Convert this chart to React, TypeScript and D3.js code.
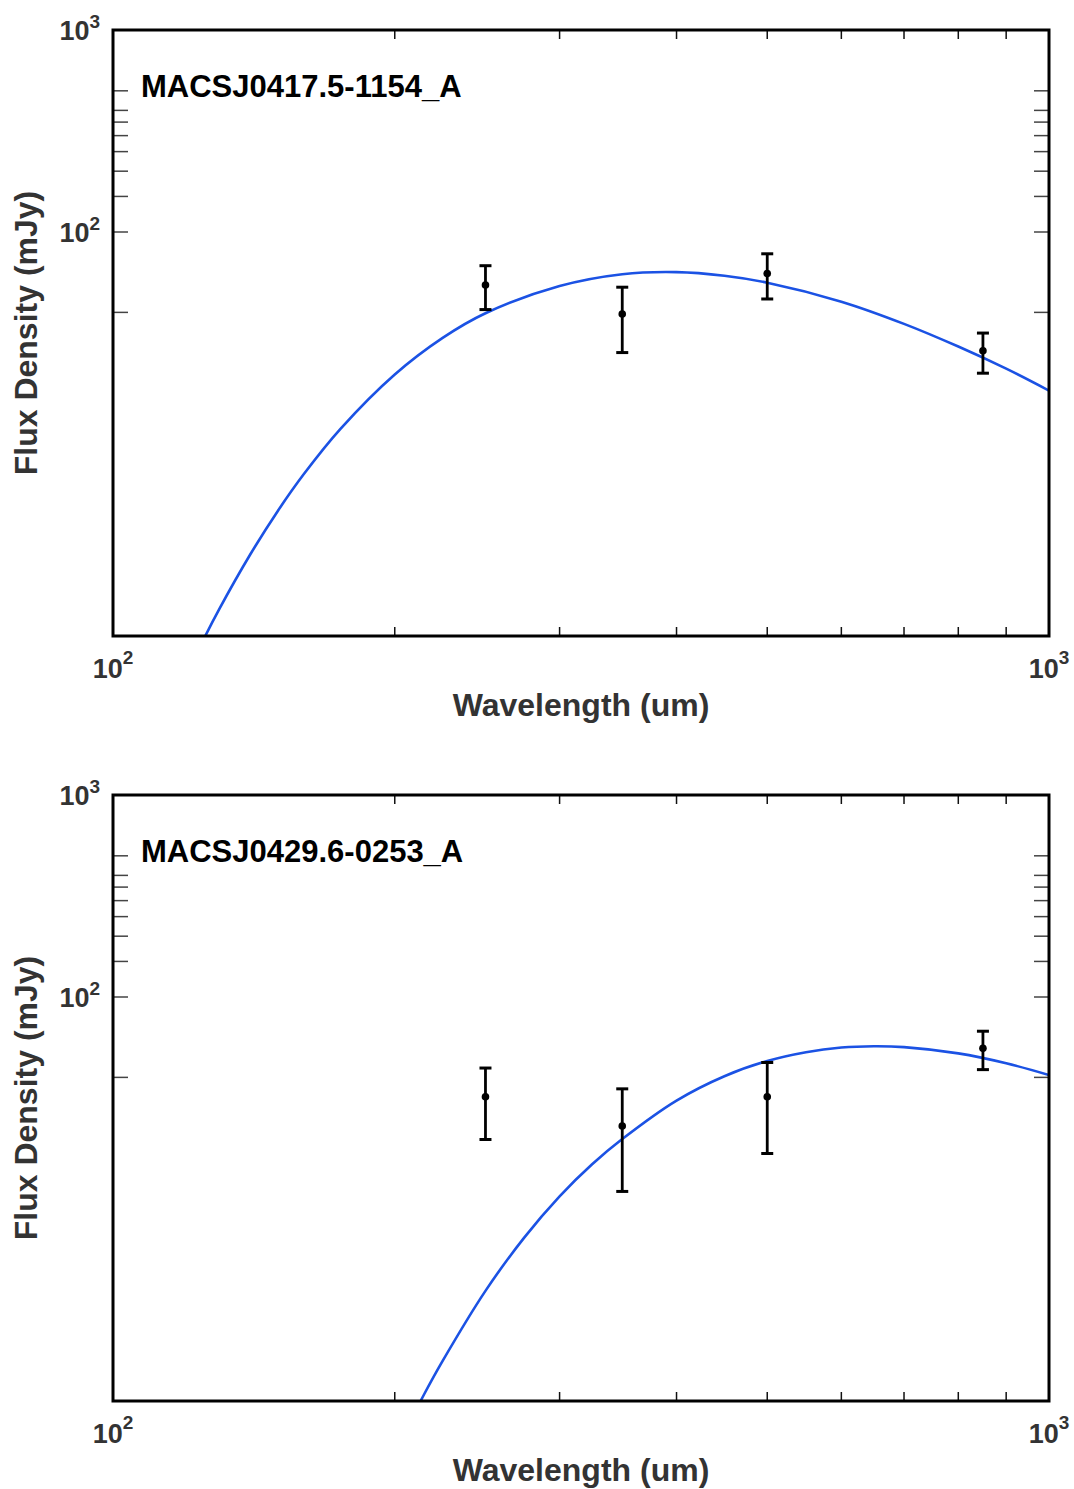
import React from 'react';
import * as d3 from 'd3';

// Observed photometric bands (um)
const wavelengths = [250, 350, 500, 850];

const sourceNames = ['MACSJ0417.5-1154_A', 'MACSJ0429.6-0253_A'];

// Measured flux densities and 1-sigma errors (mJy)
const fluxA = [54.7, 39.3, 62.3, 25.8];
const errA = [13.4, 14.0, 15.7, 5.8];
const fluxB = [32.1, 23.0, 32.1, 55.7];
const errB = [12.4, 12.1, 15.3, 12.0];

// Best-fit SED samples (wavelength um, flux mJy)
const fitWaveA = [120, 125, 130, 140, 150, 160, 175, 200, 225, 250, 300, 350, 400, 450, 500, 600, 700, 800, 900, 1000];
const fitFluxA = [0.65, 0.965, 1.37, 2.51, 4.16, 6.35, 10.6, 19.7, 29.9, 39.6, 54.0, 61.8, 63.3, 60.7, 56.1, 45.2, 35.1, 27.1, 21.06, 16.4];
const fitWaveB = [205, 215, 225, 250, 275, 300, 325, 350, 400, 450, 500, 550, 600, 650, 700, 800, 900, 1000];
const fitFluxB = [0.7, 1.08, 1.58, 3.51, 6.44, 10.31, 14.86, 19.8, 30.7, 40.55, 48.2, 53.3, 56.2, 57.07, 56.5, 52.6, 47.0, 41.1];

// Axis ticks
const xMinorTicks = [200, 300, 400, 500, 600, 700, 800, 900];
const yTicks = [40, 100, 150, 200, 250, 300, 350, 400, 500];
const xTickLabels = [{ v: 100, exp: '2' }, { v: 1000, exp: '3' }];
const yTickLabels = [{ v: 100, exp: '2' }, { v: 1000, exp: '3' }];

const W = 1074;
const H = 1489;
const plotLeft = 113;
const plotRight = 1049;
const plotH = 606;
const panelTops = [30, 795];

const FONT = '"Liberation Sans", Arial, Helvetica, sans-serif';
const LINE_BLUE = '#1b52e4';

type PanelProps = {
  idx: number;
  top: number;
  name: string;
  flux: number[];
  err: number[];
  fitWave: number[];
  fitFlux: number[];
};

function Panel({ idx, top, name, flux, err, fitWave, fitFlux }: PanelProps) {
  const bottom = top + plotH;
  const x = d3.scaleLog().domain([100, 1000]).range([plotLeft, plotRight]);
  const y = d3.scaleLog().domain([1, 1000]).range([bottom, top]);

  const fitPts: [number, number][] = fitWave.map((w, i) => [w, fitFlux[i]]);
  const line = d3
    .line<[number, number]>()
    .x((d) => x(d[0]))
    .y((d) => y(d[1]))
    .curve(d3.curveCatmullRom.alpha(0.5));

  const clipId = `plot-clip-${idx}`;
  const capHalf = 6;

  return (
    <g>
      <defs>
        <clipPath id={clipId}>
          <rect x={plotLeft} y={top} width={plotRight - plotLeft} height={plotH} />
        </clipPath>
      </defs>

      {/* fitted SED */}
      <path d={line(fitPts) || ''} fill="none" stroke={LINE_BLUE} strokeWidth={2.6} clipPath={`url(#${clipId})`} />

      {/* photometry with error bars */}
      {wavelengths.map((w, i) => {
        const cx = x(w);
        const y0 = y(flux[i] - err[i]);
        const y1 = y(flux[i] + err[i]);
        return (
          <g key={w}>
            <line x1={cx} x2={cx} y1={y0} y2={y1} stroke="#000" strokeWidth={2.8} />
            <line x1={cx - capHalf} x2={cx + capHalf} y1={y0} y2={y0} stroke="#000" strokeWidth={3} />
            <line x1={cx - capHalf} x2={cx + capHalf} y1={y1} y2={y1} stroke="#000" strokeWidth={3} />
            <circle cx={cx} cy={y(flux[i])} r={3.8} fill="#000" />
          </g>
        );
      })}

      {/* x ticks, top and bottom, pointing inward */}
      {xMinorTicks.map((t) => (
        <g key={`xt${t}`}>
          <line x1={x(t)} x2={x(t)} y1={bottom} y2={bottom - 9} stroke="#111" strokeWidth={1.5} />
          <line x1={x(t)} x2={x(t)} y1={top} y2={top + 9} stroke="#111" strokeWidth={1.5} />
        </g>
      ))}

      {/* y ticks, left and right, pointing inward */}
      {yTicks.map((t) => (
        <g key={`yt${t}`}>
          <line x1={plotLeft} x2={plotLeft + 15} y1={y(t)} y2={y(t)} stroke="#444" strokeWidth={1.5} />
          <line x1={plotRight} x2={plotRight - 15} y1={y(t)} y2={y(t)} stroke="#444" strokeWidth={1.5} />
        </g>
      ))}

      {/* frame */}
      <rect
        x={plotLeft}
        y={top}
        width={plotRight - plotLeft}
        height={plotH}
        fill="none"
        stroke="#000"
        strokeWidth={3}
      />

      {/* x tick labels */}
      {xTickLabels.map((t) => (
        <text
          key={`xl${t.v}`}
          x={x(t.v)}
          y={bottom + 42}
          textAnchor="middle"
          fontFamily={FONT}
          fontWeight="bold"
          fontSize={27}
          fill="#333"
        >
          <tspan>10</tspan>
          <tspan dy={-14} fontSize={19}>
            {t.exp}
          </tspan>
        </text>
      ))}

      {/* y tick labels */}
      {yTickLabels.map((t) => (
        <text
          key={`yl${t.v}`}
          x={100}
          y={y(t.v) + 10}
          textAnchor="end"
          fontFamily={FONT}
          fontWeight="bold"
          fontSize={27}
          fill="#333"
        >
          <tspan>10</tspan>
          <tspan dy={-12} fontSize={19}>
            {t.exp}
          </tspan>
        </text>
      ))}

      {/* axis labels */}
      <text
        x={(plotLeft + plotRight) / 2}
        y={bottom + 80}
        textAnchor="middle"
        fontFamily={FONT}
        fontWeight="bold"
        fontSize={32}
        fill="#333"
      >
        Wavelength (um)
      </text>
      <text
        transform={`translate(37,${top + plotH / 2}) rotate(-90)`}
        textAnchor="middle"
        fontFamily={FONT}
        fontWeight="bold"
        fontSize={32}
        fill="#333"
      >
        Flux Density (mJy)
      </text>

      {/* source name */}
      <text x={141} y={top + 67} fontFamily={FONT} fontWeight="bold" fontSize={31} fill="#000">
        {name}
      </text>
    </g>
  );
}

export default function App() {
  return (
    <svg
      width={W}
      height={H}
      viewBox={`0 0 ${W} ${H}`}
      style={{ position: 'absolute', left: 0, top: 0, background: '#fff' }}
    >
      <rect x={0} y={0} width={W} height={H} fill="#fff" />
      <Panel
        idx={0}
        top={panelTops[0]}
        name={sourceNames[0]}
        flux={fluxA}
        err={errA}
        fitWave={fitWaveA}
        fitFlux={fitFluxA}
      />
      <Panel
        idx={1}
        top={panelTops[1]}
        name={sourceNames[1]}
        flux={fluxB}
        err={errB}
        fitWave={fitWaveB}
        fitFlux={fitFluxB}
      />
    </svg>
  );
}
